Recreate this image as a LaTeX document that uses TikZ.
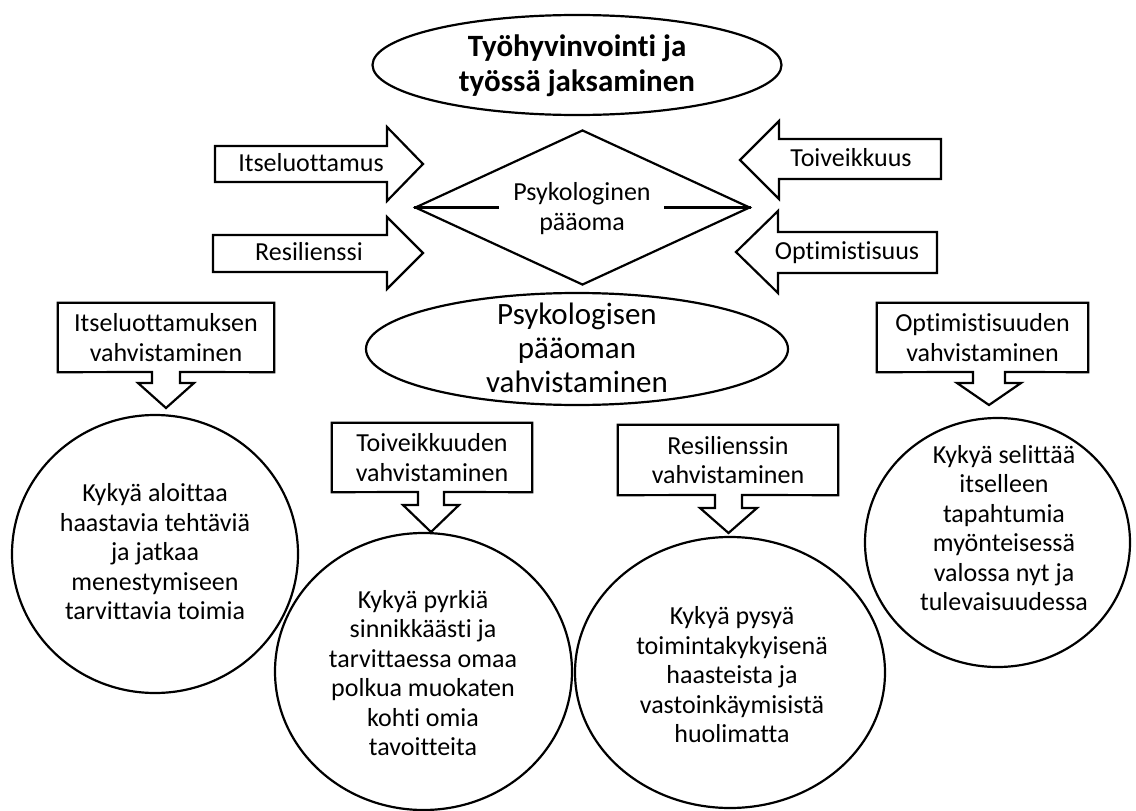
\documentclass[tikz,border=0pt]{standalone}
\usepackage{fontspec}
\setmainfont{Carlito}[Ligatures={NoCommon}]
\usetikzlibrary{shapes.geometric,calc}
\begin{document}
\begin{tikzpicture}[x=1pt,y=-1pt,
  shp/.style={draw, line width=2.2pt, line join=miter},
  ring/.style={ellipse, draw, line width=2.2pt, inner sep=0pt},
  lbl/.style={font=\fontsize{26}{29.5}\selectfont, align=center, inner sep=0pt},
  cbox/.style={lbl, rectangle, minimum height=69pt}]
\fill[white] (0,0) rectangle (1136,811);
\useasboundingbox (0,0) rectangle (1136,811);

% title
\node[ring, minimum width=409pt, minimum height=100pt] (title) at (577,65) {};
\node[font=\bfseries\fontsize{31}{35}\selectfont, align=center, inner sep=0pt] (titletxt) at (577,66) {Työhyvinvointi ja\\työssä jaksaminen};

% diamond
\node[diamond, draw, line width=2.2pt, minimum width=335pt, minimum height=155pt, inner sep=0pt] (dia) at (582.5,207.5) {};
\node[lbl] (diatxt) at (582,208.5) {Psykologinen\\pääoma};
\draw[line width=2.2pt] (dia.west) -- ($(diatxt.west |- dia.west)+(-14,0)$);
\draw[line width=2.2pt] (dia.east) -- ($(diatxt.east |- dia.east)+(13,0)$);

% middle ellipse
\node[ring, minimum width=422pt, minimum height=112pt] (mid) at (577,349) {};
\node[font=\fontsize{31}{34}\selectfont, align=center, inner sep=0pt] (midtxt) at (577,348) {Psykologisen\\pääoman\\vahvistaminen};

% block arrows
\draw[shp] (215,146) -- (387,146) -- (387,127) -- (423,164) -- (387,201) -- (387,182) -- (215,182) -- cycle;
\draw[shp] (213,235) -- (387,235) -- (387,217) -- (423,253) -- (387,289) -- (387,272) -- (213,272) -- cycle;
\draw[shp] (941,139) -- (779,139) -- (779,121) -- (740,160) -- (779,199) -- (779,179) -- (941,179) -- cycle;
\draw[shp] (937,232) -- (778,232) -- (778,211) -- (736,252) -- (778,293) -- (778,273) -- (937,273) -- cycle;
\node[lbl] (a1) at (311,163) {Itseluottamus};
\node[lbl] (a2) at (309,252) {Resilienssi};
\node[lbl] (a3) at (851,158) {Toiveikkuus};
\node[lbl] (a4) at (847,253) {Optimistisuus};

% circles
\node[ring, minimum width=286pt, minimum height=278pt] (c1) at (155,554) {};
\node[lbl] (t1) at (155,552) {Kykyä aloittaa\\haastavia tehtäviä\\ja jatkaa\\menestymiseen\\tarvittavia toimia};
\node[ring, minimum width=297pt, minimum height=277pt] (c2) at (423.5,671.5) {};
\node[lbl] (t2) at (423,673) {Kykyä pyrkiä\\sinnikkäästi ja\\tarvittaessa omaa\\polkua muokaten\\kohti omia\\tavoitteita};
\node[ring, minimum width=310pt, minimum height=271pt] (c3) at (730,672.5) {};
\node[lbl] (t3) at (732,675) {Kykyä pysyä\\toimintakykyisenä\\haasteista ja\\vastoinkäymisistä\\huolimatta};
\node[ring, minimum width=265pt, minimum height=249pt] (c4) at (997.5,542.5) {};
\node[lbl] (t4) at (1004,528) {Kykyä selittää\\itselleen\\tapahtumia\\myönteisessä\\valossa nyt ja\\tulevaisuudessa};

% callouts
\node[cbox, minimum width=216pt] (b1) at (166,337.5) {Itseluottamuksen\\vahvistaminen};
\draw[shp] (b1.south west) -- (b1.north west) -- (b1.north east) -- (b1.south east)
  -- (180,372) -- (180,383) -- (194,383) -- (166,408) -- (138,383) -- (152,383) -- (152,372) -- cycle;
\node[cbox, minimum width=200pt] (b2) at (432,457.5) {Toiveikkuuden\\vahvistaminen};
\draw[shp] (b2.south west) -- (b2.north west) -- (b2.north east) -- (b2.south east)
  -- (444,492) -- (444,505) -- (459,505) -- (431,532) -- (403,505) -- (418,505) -- (418,492) -- cycle;
\node[cbox, minimum width=220pt, minimum height=70pt] (b3) at (728,460) {Resilienssin\\vahvistaminen};
\draw[shp] (b3.south west) -- (b3.north west) -- (b3.north east) -- (b3.south east)
  -- (742,495) -- (742,508) -- (757,508) -- (728.5,533) -- (700,508) -- (715,508) -- (715,495) -- cycle;
\node[cbox, minimum width=211pt] (b4) at (982.5,337.5) {Optimistisuuden\\vahvistaminen};
\draw[shp] (b4.south west) -- (b4.north west) -- (b4.north east) -- (b4.south east)
  -- (1005,372) -- (1005,383) -- (1021,383) -- (989,405) -- (957,383) -- (973,383) -- (973,372) -- cycle;
\end{tikzpicture}
\end{document}
